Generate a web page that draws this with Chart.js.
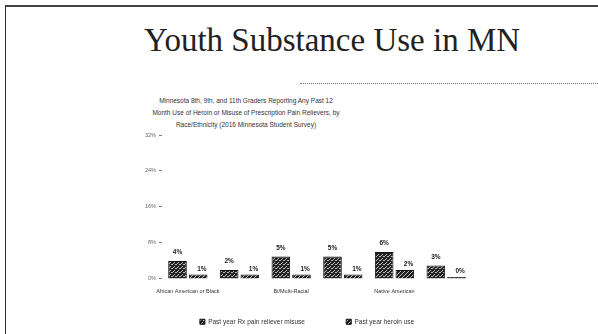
<!DOCTYPE html>
<html>
<head>
<meta charset="utf-8">
<script src="https://cdn.jsdelivr.net/npm/chart.js@4"></script>
<style>
  html, body { margin: 0; padding: 0; background: #fff; }
  body { width: 598px; height: 334px; position: relative; overflow: hidden; }
  #frame { position: absolute; left: 5px; top: 5px; width: 600px; height: 340px; border-left: 1px solid #333; border-top: 2px solid #444; }
  #slide-title { position: absolute; left: 0; top: 22px; width: 664px; text-align: center;
    font-family: "Liberation Serif", "DejaVu Serif", serif; font-size: 33px; color: #222; }
  #rule { position: absolute; left: 300px; top: 83px; width: 298px; border-top: 1px dotted #777; }
  #subtitle { position: absolute; left: 126px; top: 95px; width: 240px; text-align: center;
    font-family: "Liberation Sans", sans-serif; font-size: 6.5px; line-height: 12px; color: #333; }
  #wrap { position: absolute; left: 120px; top: 92px; width: 360px; height: 243px; }
</style>
</head>
<body>
<div id="frame"></div>
<div id="slide-title">Youth Substance Use in MN</div>
<div id="rule"></div>
<div id="subtitle"></div>
<div id="wrap"><canvas id="chart"></canvas></div>
<script>
// 📊 DATA
const categories = ['African American or Black', 'Asian', 'Bi/Multi-Racial', 'Hispanic/Latino', 'Native American', 'White'];
const rxMisuse = [4, 2, 5, 5, 6, 3];
const heroinUse = [1, 1, 1, 1, 2, 0];
const yTicks = [0, 8, 16, 24, 32];
const subtitle = [
    'Minnesota 8th, 9th, and 11th Graders Reporting Any Past 12',
    'Month Use of Heroin or Misuse of Prescription Pain Relievers, by',
    'Race/Ethnicity (2016 Minnesota Student Survey)'
];

document.getElementById('subtitle').innerHTML = subtitle.join('<br>');

// 🎨 scanned-looking fills
function makePattern(kind) {
    const c = document.createElement('canvas');
    c.width = 4; c.height = 4;
    const g = c.getContext('2d');
    g.fillStyle = '#222';
    g.fillRect(0, 0, 4, 4);
    g.fillStyle = '#bbb';
    if (kind === 'check') {
        g.fillRect(0, 0, 1, 1); g.fillRect(2, 2, 1, 1); g.fillRect(3, 0, 1, 1); g.fillRect(1, 3, 1, 1);
    } else {
        g.fillRect(0, 3, 1, 1); g.fillRect(1, 2, 1, 1); g.fillRect(2, 1, 1, 1); g.fillRect(3, 0, 1, 1);
    }
    return g.createPattern(c, 'repeat');
}

// value labels above bars
const barLabels = {
    id: 'barLabels',
    afterDatasetsDraw(chart) {
        const ctx = chart.ctx;
        ctx.save();
        ctx.font = 'bold 6.5px "Liberation Sans", sans-serif';
        ctx.fillStyle = '#222';
        ctx.textBaseline = 'bottom';
        chart.data.datasets.forEach((ds, i) => {
            chart.getDatasetMeta(i).data.forEach((bar, j) => {
                if (i === 0) {
                    ctx.textAlign = 'center';
                    ctx.fillText(ds.data[j] + '%', bar.x, bar.y - 5);
                } else {
                    ctx.textAlign = 'left';
                    ctx.fillText(ds.data[j] + '%', bar.x - 1, bar.y - 2);
                }
            });
        });
        ctx.restore();
    }
};

new Chart(document.getElementById('chart'), {
    type: 'bar',
    data: {
        labels: categories,
        datasets: [
            { label: 'Past year Rx pain reliever misuse', data: rxMisuse, backgroundColor: makePattern('check'), borderColor: '#111', borderWidth: 1 },
            { label: 'Past year heroin use', data: heroinUse, backgroundColor: makePattern('diag'), borderColor: '#111', borderWidth: 1, minBarLength: 2 }
        ]
    },
    options: {
        responsive: true,
        maintainAspectRatio: false,
        animation: false,
        layout: { padding: { left: 22, right: 8, top: 43, bottom: 0 } },
        plugins: {
            legend: {
                position: 'bottom',
                labels: {
                    color: '#333',
                    font: { family: '"Liberation Sans", sans-serif', size: 6.5 },
                    boxWidth: 5, boxHeight: 5, padding: 16,
                    // wider gap between the two items, like the slide
                    generateLabels: chart => {
                        const items = Chart.defaults.plugins.legend.labels.generateLabels(chart);
                        items[0].text += '              ';
                        return items;
                    }
                }
            },
            tooltip: { enabled: false }
        },
        scales: {
            x: {
                grid: { display: false },
                border: { display: false },
                afterFit: axis => { axis.height += 7; },
                ticks: {
                    autoSkip: false, maxRotation: 0, color: '#333', padding: 1,
                    font: { family: '"Liberation Sans", sans-serif', size: 5.5 },
                    callback: (v, i) => i % 2 === 0 ? categories[i] : ''
                },
                categoryPercentage: 0.66,
                barPercentage: 1
            },
            y: {
                min: 0, max: 32,
                afterBuildTicks: axis => { axis.ticks = yTicks.map(v => ({ value: v })); },
                grid: { drawOnChartArea: false, tickLength: 3, color: '#777' },
                border: { display: false },
                ticks: {
                    color: '#666',
                    font: { family: '"Liberation Sans", sans-serif', size: 5.5 },
                    callback: v => v + '%'
                }
            }
        }
    },
    plugins: [barLabels]
});
</script>
</body>
</html>
